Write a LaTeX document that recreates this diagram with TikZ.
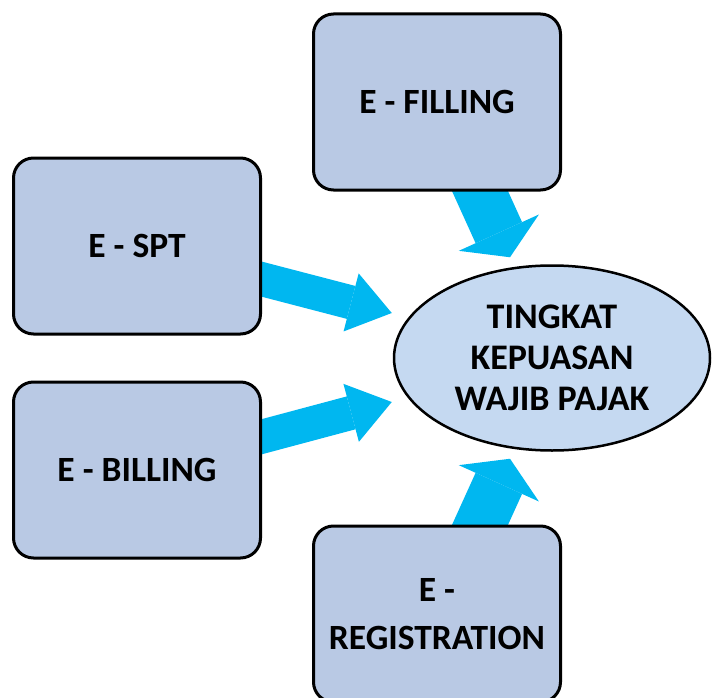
\documentclass[tikz,border=0pt]{standalone}
\usepackage{fontspec}
\setmainfont{Carlito}
\usepackage{tikz}
\usetikzlibrary{arrows.meta, shapes, calc, backgrounds}
\definecolor{boxblue}{RGB}{185, 201, 228}
\definecolor{goalblue}{RGB}{197, 217, 241}
\definecolor{flowcyan}{RGB}{0, 183, 240}

\begin{document}
\begin{tikzpicture}[x=1pt, y=-1pt,
        faktor/.style={draw=black, line width=3pt, fill=boxblue, rounded corners=20pt,
            minimum width=247pt, minimum height=176pt, align=center,
            font=\bfseries\fontsize{35.5}{48}\selectfont},
        tujuan/.style={ellipse, draw=black, line width=2.5pt, fill=goalblue, inner sep=0pt,
            minimum width=316pt, minimum height=185pt, align=center,
            font=\bfseries\fontsize{36}{41}\selectfont},
        sisi/.style={flowcyan, line width=34pt, -{Triangle[length=42pt, width=60pt, line width=0pt]}},
        tegak/.style={flowcyan, line width=51pt, -{Triangle[length=27pt, width=88pt, line width=0pt]}}]
        \useasboundingbox (0,0) rectangle (712,698);

        % 四个因素
        \node[faktor] (fil) at (437,102) {E - FILLING};
        \node[faktor] (spt) at (137,246) {E - SPT};
        \node[faktor] (bil) at (137,470) {E - BILLING};
        \node[faktor] (reg) at (437,614) {E -\\REGISTRATION};

        % 目标
        \node[tujuan] (tk) at (552,358) {TINGKAT\\KEPUASAN\\WAJIB PAJAK};

        % 箭头
        \begin{scope}[on background layer]
            \fill[white] (0,0) rectangle (712,698);
            \draw[sisi] ($(spt.east)+(-20,28)$) -- ($(tk.west)+(-1,-45)$);
            \draw[sisi] ($(bil.east)+(-20,-28)$) -- ($(tk.west)+(-1,44)$);
            \draw[tegak] ($(fil.south)+(35,-18)$) -- ($(tk.north)+(-42,-7)$);
            \draw[tegak] ($(reg.north)+(35,18)$) -- ($(tk.south)+(-42,7)$);
        \end{scope}
    \end{tikzpicture}
\end{document}
